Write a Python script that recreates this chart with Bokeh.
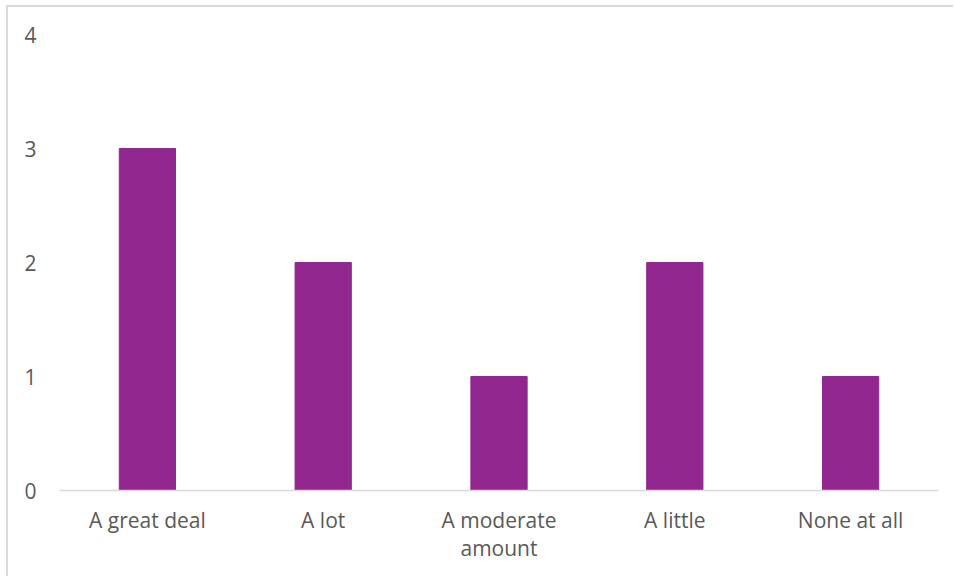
from bokeh.plotting import figure
from bokeh.embed import file_html
from bokeh.resources import INLINE
from bokeh.models import ColumnDataSource, FixedTicker

# Survey responses: count per answer
categories = ["A great deal", "A lot", "A moderate\namount", "A little", "None at all"]
counts = [3, 2, 1, 2, 1]
y_ticks = [0, 1, 2, 3, 4]

source = ColumnDataSource(data=dict(cat=categories, count=counts))

p = figure(
    x_range=categories,
    y_range=(0, 4),
    width=947,
    height=571,
    output_backend="svg",
    toolbar_location=None,
    min_border_left=51,
    min_border_right=17,
    min_border_top=27,
    min_border_bottom=88,
)
p.margin = (5, 0, 0, 6)

p.vbar(x="cat", top="count", width=0.32, source=source,
       fill_color="#92278F", line_color="#92278F")

p.x_range.range_padding = 0
p.outline_line_color = None
p.xgrid.grid_line_color = None
p.ygrid.grid_line_color = None
p.background_fill_color = "white"
p.border_fill_color = "white"

label_font = "Open Sans"
label_color = "#595959"
label_size = "21px"

p.yaxis.ticker = FixedTicker(ticks=y_ticks)
p.yaxis.axis_line_color = None
p.yaxis.major_tick_line_color = None
p.yaxis.minor_tick_line_color = None
p.yaxis.major_tick_out = 0
p.yaxis.major_label_standoff = 23
p.yaxis.major_label_text_font = label_font
p.yaxis.major_label_text_font_size = label_size
p.yaxis.major_label_text_color = label_color

p.xaxis.axis_line_color = "#d9d9d9"
p.xaxis.axis_line_width = 1.5
p.xaxis.major_tick_line_color = None
p.xaxis.minor_tick_line_color = None
p.xaxis.major_tick_out = 0
p.xaxis.major_label_standoff = 15
p.xaxis.major_label_text_font = label_font
p.xaxis.major_label_text_font_size = label_size
p.xaxis.major_label_text_color = label_color
p.xaxis.major_label_text_line_height = 1.0

# Chart border (top and left edges visible in the window)
p.styles = {"border-top": "2px solid #d9d9d9", "border-left": "2px solid #d9d9d9"}

open("out.html", "w").write(file_html(p, INLINE))
